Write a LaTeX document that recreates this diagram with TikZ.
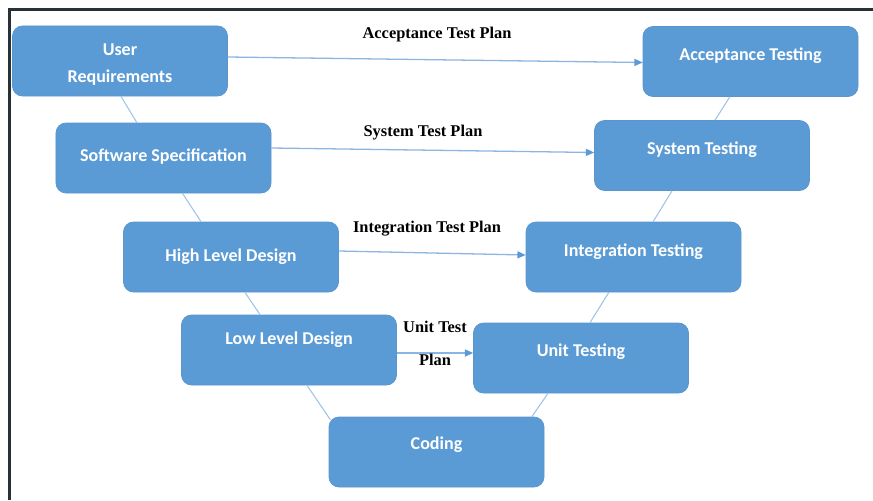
\documentclass[tikz,border=0pt]{standalone}
\usepackage{fontspec}
\usepackage{tikz}
\usetikzlibrary{arrows.meta}

\newfontfamily\stagefamily{Carlito}
\newfontfamily\planfamily{Liberation Serif}
\newcommand{\stagefont}{\stagefamily\bfseries\fontsize{15.4}{23}\selectfont}
\newcommand{\planfont}{\planfamily\bfseries\fontsize{14}{16}\selectfont}

\definecolor{stageBlue}{HTML}{5B9BD5}
\definecolor{stageEdge}{HTML}{5A95CE}
\definecolor{linkBlue}{HTML}{9DC3E6}
\definecolor{planBlue}{HTML}{8AB6E1}
\definecolor{tipBlue}{HTML}{5B9BD5}
\definecolor{frameGray}{HTML}{263238}

\tikzset{
    stage/.style={rectangle, rounded corners=0.3cm, fill=stageBlue, draw=stageEdge, line width=0.6pt,
        text=white, font=\stagefont, minimum width=6.45cm, minimum height=2.1cm, inner sep=0pt, align=center},
    lift/.style={text height=0.36cm, text depth=#1},
    link/.style={draw=linkBlue, line width=0.9pt},
    plan/.style={draw=planBlue, line width=1.1pt, -{Triangle[length=7pt, width=6pt, color=tipBlue]}},
    planlabel/.style={font=\planfont, text=black, align=center, inner sep=0pt}
}

\begin{document}
\begin{tikzpicture}[x=0.03cm, y=-0.03cm]
        \useasboundingbox (0,0) rectangle (873,500);

        % --- Frame of the screenshot ---
        \draw[frameGray, line width=0.09cm] (9,500) -- (9,9) -- (873,9);
        % ---

        % --- Left arm: design stages ---
        \node[stage, text height=1.37cm] (userReq) at (120,61) {User\\Requirements};
        \node[stage, lift=0.18cm] (softSpec) at (163.5,158) {Software Specification};
        \node[stage, lift=0.12cm] (highDesign) at (231,257) {High Level Design};
        \node[stage, lift=0.72cm] (lowDesign) at (289,350) {Low Level Design};
        \node[stage, lift=0.54cm] (coding) at (436.5,452) {Coding};
        % ---

        % --- Right arm: testing stages ---
        \node[stage, lift=0.48cm] (unitTest) at (581,358) {Unit Testing};
        \node[stage, lift=0.42cm] (integTest) at (633.5,257) {Integration Testing};
        \node[stage, lift=0.45cm] (sysTest) at (702,155.5) {System Testing};
        \node[stage, lift=0.45cm] (accTest) at (750.5,61.5) {Acceptance Testing};
        % ---

        % --- Lines along the V ---
        \draw[link] ([xshift=0.03cm]userReq.south) -- ([xshift=-0.8cm]softSpec.north);
        \draw[link] ([xshift=0.57cm]softSpec.south) -- ([xshift=-0.9cm]highDesign.north);
        \draw[link] ([xshift=0.42cm]highDesign.south) -- ([xshift=-0.87cm]lowDesign.north);
        \draw[link] ([xshift=0.54cm]lowDesign.south) -- ([xshift=0.05cm, yshift=-0.09cm]coding.north west);
        \draw[link] ([xshift=2.86cm]coding.north) -- ([xshift=-0.99cm]unitTest.south);
        \draw[link] ([xshift=0.27cm]unitTest.north) -- ([xshift=-0.74cm]integTest.south);
        \draw[link] ([xshift=0.59cm]integTest.north) -- ([xshift=-0.9cm]sysTest.south);
        \draw[link] ([xshift=0.39cm]sysTest.north) -- ([xshift=-0.62cm]accTest.south);
        % ---

        % --- Test plans across the V ---
        \draw[plan] ([yshift=0.12cm]userReq.east) -- ([yshift=-0.03cm]accTest.west);
        \draw[plan] ([yshift=0.3cm]softSpec.east) -- ([yshift=0.09cm]sysTest.west);
        \draw[plan] ([yshift=0.18cm]highDesign.east) -- ([yshift=0.06cm]integTest.west);
        \draw[plan] ([yshift=-0.09cm]lowDesign.east) -- ([yshift=0.15cm]unitTest.west);
        \node[planlabel] (accPlan) at (437,35) {Acceptance Test Plan};
        \node[planlabel] (sysPlan) at (423,133) {System Test Plan};
        \node[planlabel] (integPlan) at (427,229) {Integration Test Plan};
        \node[planlabel] (unitPlan) at (435,343) {Unit Test\\[12pt]Plan};
        % ---
    \end{tikzpicture}
\end{document}
